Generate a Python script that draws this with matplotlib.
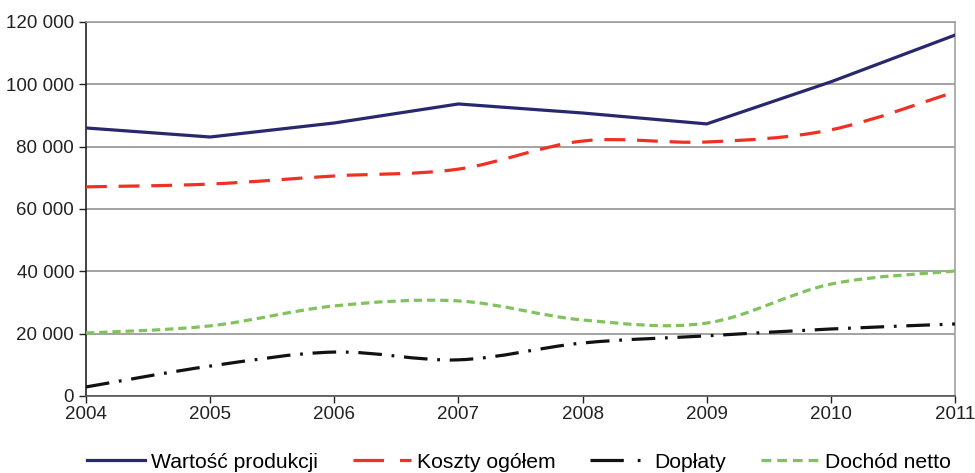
import matplotlib
matplotlib.use("Agg")
import matplotlib.pyplot as plt
from matplotlib.path import Path
from matplotlib.patches import PathPatch
from matplotlib.lines import Line2D
from matplotlib.ticker import FuncFormatter
import numpy as np

plt.rcParams['font.family'] = ['Liberation Sans', 'DejaVu Sans']
plt.rcParams['lines.scale_dashes'] = False

years = [2004, 2005, 2006, 2007, 2008, 2009, 2010, 2011]
wartosc = [86000, 83100, 87600, 93700, 90800, 87300, 100800, 115800]
koszty = [67100, 68000, 70600, 72800, 81800, 81500, 85400, 97600]
doplaty = [2900, 9600, 14100, 11600, 17000, 19300, 21500, 23100]
dochod = [20200, 22500, 28900, 30500, 24400, 23400, 35900, 40100]


def smooth_path(x, y):
    # bezier przez punkty (jak wygladzona linia w Excelu)
    p = np.column_stack([x, y]).astype(float)
    ext = np.vstack([p[0], p, p[-1]])
    verts = [p[0]]
    codes = [Path.MOVETO]
    for i in range(len(p) - 1):
        c1 = p[i] + (ext[i + 2] - ext[i]) / 6
        c2 = p[i + 1] - (ext[i + 3] - ext[i + 1]) / 6
        verts += [c1, c2, p[i + 1]]
        codes += [Path.CURVE4] * 3
    return Path(verts, codes)


fig = plt.figure(figsize=(9.75, 4.73), dpi=100)
ax = fig.add_axes([0.0882, 0.1628, 0.8913, 0.7907])

lw = 2.3
s_w = dict(color='#28286f', linewidth=lw, linestyle='-')
s_k = dict(color='#ee3124', linewidth=lw, linestyle=(0, (15, 8.5)))
s_d = dict(color='#111111', linewidth=lw, linestyle=(0, (17, 7, 2, 7)))
s_n = dict(color='#80c35e', linewidth=lw, linestyle=(0, (6, 3.5)))

ax.plot(years, wartosc, solid_joinstyle='miter', zorder=4, **s_w)
for data, st in [(koszty, s_k), (doplaty, s_d), (dochod, s_n)]:
    ax.add_patch(PathPatch(smooth_path(years, data), fill=False,
                           edgecolor=st['color'], linewidth=st['linewidth'],
                           linestyle=st['linestyle'], capstyle='butt', zorder=3))

ax.set_xlim(2004, 2011)
ax.set_ylim(0, 120000)
ax.set_xticks(years)
ax.set_yticks(range(0, 120001, 20000))
ax.yaxis.set_major_formatter(FuncFormatter(lambda v, p: f"{int(v):,}".replace(",", " ")))
ax.grid(axis='y', color='#8a8a8a', linewidth=1.1)
ax.set_axisbelow(True)
for s in ['top', 'right']:
    ax.spines[s].set_color('#9a9a9a')
    ax.spines[s].set_linewidth(1.1)
ax.spines['left'].set_color('#222222')
ax.spines['bottom'].set_color('#555555')
ax.spines['left'].set_linewidth(1.2)
ax.spines['bottom'].set_linewidth(1.2)
ax.tick_params(axis='both', labelsize=13.5, colors='#222222', length=5, width=1, direction='out')
ax.tick_params(axis='x', pad=2)

# legenda - wzory kresek jak w oryginale
handles = [Line2D([], [], color=s_w['color'], linewidth=lw),
           Line2D([], [], color=s_k['color'], linewidth=lw, linestyle=(0, (22, 11.5))),
           Line2D([], [], color=s_d['color'], linewidth=lw, linestyle=(0, (24, 10, 2, 10))),
           Line2D([], [], color=s_n['color'], linewidth=lw, linestyle=(0, (7, 4.3)))]
labels = ['Wartość produkcji', 'Koszty ogółem', 'Dopłaty', 'Dochód netto']
fig.legend(handles, labels, loc='center', bbox_to_anchor=(0.532, 0.023), ncol=4,
           frameon=False, fontsize=15.2, handlelength=2.75, handletextpad=0.28,
           columnspacing=1.65, borderpad=0.2)

fig.savefig('out.png', dpi=100)
